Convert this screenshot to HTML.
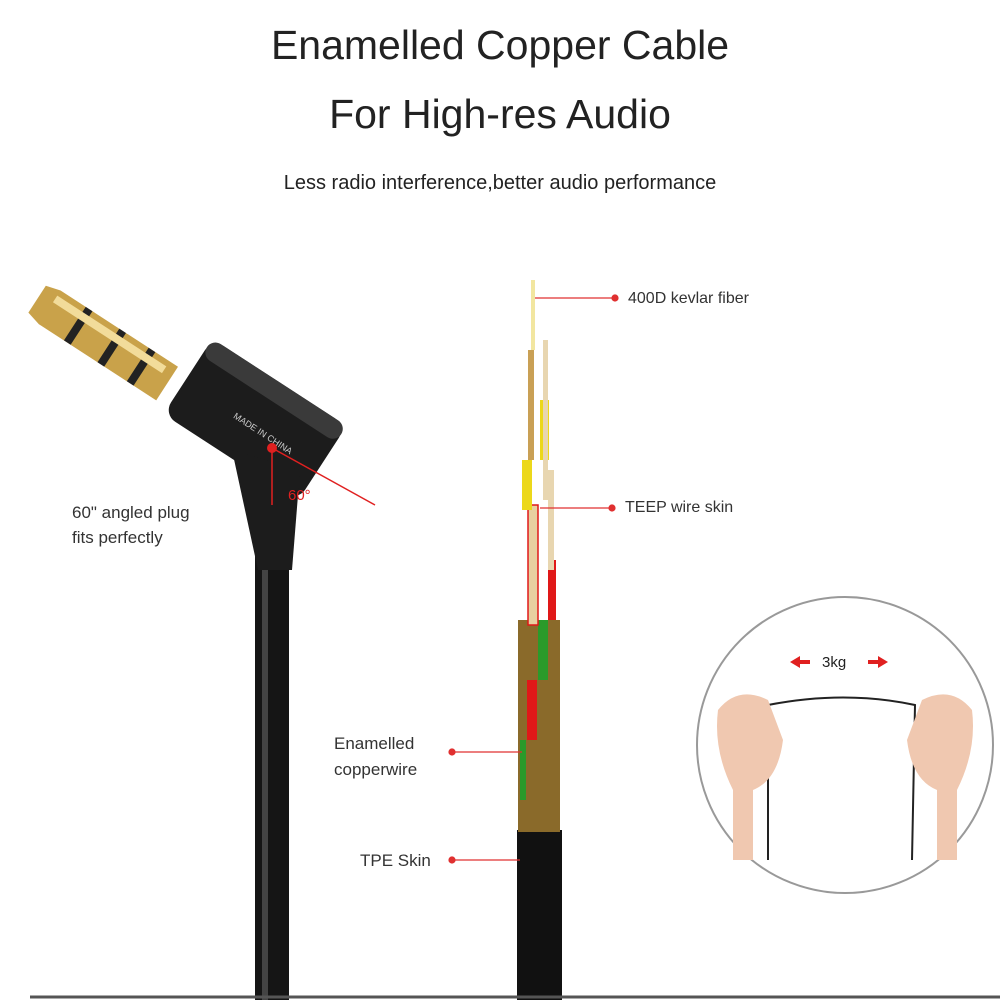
<!DOCTYPE html>
<html><head><meta charset="utf-8"><style>
html,body{margin:0;padding:0;background:#fff}
body{width:1000px;height:1000px;position:relative;overflow:hidden;font-family:"Liberation Sans",sans-serif;color:#222}
.t{position:absolute;left:0;width:1000px;text-align:center}
.l{position:absolute;font-size:17px;color:#333}
</style></head><body>
<div class="t" style="top:22px;font-size:41px">Enamelled Copper Cable</div>
<div class="t" style="top:91px;font-size:41px">For High-res Audio</div>
<div class="t" style="top:172px;font-size:20px">Less radio interference,better audio performance</div>
<svg width="1000" height="1000" style="position:absolute;left:0;top:0">
<!-- plug cable -->
<rect x="255" y="500" width="34" height="500" fill="#151515"/>
<rect x="262" y="500" width="6" height="500" fill="#444"/>
<!-- gold tip -->
<g transform="translate(100,340) rotate(33)">
<path d="M-75,-16 L-60,-20 L80,-20 L80,20 L-60,20 L-75,16 Z" fill="#c9a24a"/>
<rect x="-30" y="-20" width="8" height="40" fill="#222"/>
<rect x="10" y="-20" width="8" height="40" fill="#222"/>
<rect x="45" y="-20" width="8" height="40" fill="#222"/>
<rect x="-60" y="-14" width="130" height="8" fill="#f2dc9a"/>
</g>
<!-- plug body -->
<g transform="translate(255,420) rotate(33)">
<rect x="-80" y="-45" width="160" height="90" rx="14" fill="#1c1c1c"/>
<rect x="-80" y="-45" width="160" height="20" rx="10" fill="#3a3a3a"/>
<text x="-20" y="10" font-size="9" fill="#ccc" font-family="Liberation Sans">MADE IN CHINA</text>
</g>
<path d="M232,450 L300,470 L292,570 L258,570 Z" fill="#1c1c1c"/>
<circle cx="272" cy="448" r="5" fill="#e02020"/>
<line x1="272" y1="448" x2="375" y2="505" stroke="#e02020" stroke-width="1.5"/>
<line x1="272" y1="448" x2="272" y2="505" stroke="#e02020" stroke-width="1.5"/>
<text x="288" y="500" font-size="15" fill="#e02020">60°</text>
<!-- middle cable -->
<rect x="517" y="830" width="45" height="170" fill="#111"/>
<rect x="518" y="620" width="42" height="212" fill="#8a6a2a"/>
<rect x="520" y="740" width="6" height="60" fill="#2a9a2a"/>
<rect x="527" y="680" width="10" height="60" fill="#e01818"/>
<rect x="538" y="620" width="10" height="60" fill="#2a9a2a"/>
<rect x="548" y="560" width="8" height="60" fill="#e01818"/>
<rect x="528" y="505" width="10" height="120" fill="#e8d0a0" stroke="#e01818" stroke-width="1.5"/>
<rect x="522" y="460" width="10" height="50" fill="#ecd81a"/>
<rect x="540" y="400" width="9" height="60" fill="#ecd81a"/>
<rect x="528" y="350" width="6" height="110" fill="#c9a055"/>
<rect x="543" y="340" width="5" height="160" fill="#e8d6b0"/>
<rect x="548" y="470" width="6" height="100" fill="#e8d6b0"/>
<line x1="533" y1="280" x2="533" y2="350" stroke="#f2e6a0" stroke-width="4"/>
<!-- label lines -->
<g stroke="#e03030" stroke-width="1.2" fill="#e03030">
<line x1="535" y1="298" x2="615" y2="298"/><circle cx="615" cy="298" r="3"/>
<line x1="540" y1="508" x2="612" y2="508"/><circle cx="612" cy="508" r="3"/>
<line x1="452" y1="752" x2="522" y2="752"/><circle cx="452" cy="752" r="3"/>
<line x1="452" y1="860" x2="520" y2="860"/><circle cx="452" cy="860" r="3"/>
</g>
<!-- circle -->
<circle cx="845" cy="745" r="148" fill="#fff" stroke="#999" stroke-width="2"/>
<path d="M768,860 L768,705 Q845,690 915,705 L912,860" fill="none" stroke="#222" stroke-width="2"/>
<path d="M718,710 q20,-25 50,-10 l15,40 q-5,40 -30,50 l0,70 -20,0 0,-70 q-20,-40 -15,-80z" fill="#f0c8b0"/>
<path d="M972,710 q-20,-25 -50,-10 l-15,40 q5,40 30,50 l0,70 20,0 0,-70 q20,-40 15,-80z" fill="#f0c8b0"/>
<path d="M790,662 l10,-6 0,4 10,0 0,4 -10,0 0,4z" fill="#e02020"/>
<path d="M888,662 l-10,-6 0,4 -10,0 0,4 10,0 0,4z" fill="#e02020"/>
<text x="822" y="667" font-size="15" fill="#222" font-family="Liberation Sans">3kg</text>
<line x1="30" y1="997" x2="1000" y2="997" stroke="#555" stroke-width="3"/>
</svg>
<div class="l" style="left:628px;top:290px;font-size:16px">400D kevlar fiber</div>
<div class="l" style="left:625px;top:499px;font-size:16px">TEEP wire skin</div>
<div class="l" style="left:334px;top:731px;line-height:26px">Enamelled<br>copperwire</div>
<div class="l" style="left:360px;top:851px">TPE Skin</div>
<div class="l" style="left:72px;top:500px;line-height:25px">60" angled plug<br>fits perfectly</div>
</body></html>
